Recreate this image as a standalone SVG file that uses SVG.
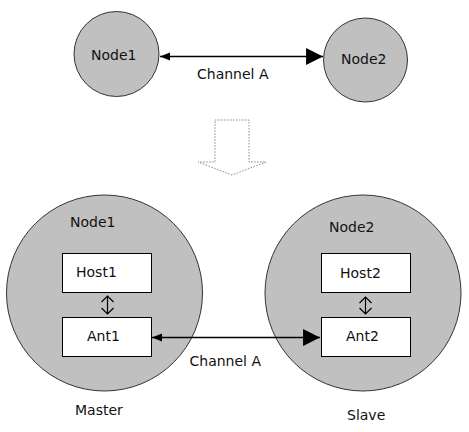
<svg xmlns="http://www.w3.org/2000/svg" width="469" height="432" viewBox="0 0 469 432">
<style>
  .node { fill: #c0c0c0; stroke: #333; stroke-width: 1; }
  .box { fill: #fff; stroke: #000; stroke-width: 1; }
  .lbl { font-family: "DejaVu Sans", Verdana, sans-serif; font-size: 14px; fill: #111; }
  .conn { stroke: #000; stroke-width: 1.3; fill: none; }
  .dbl { stroke: #000; stroke-width: 1.2; fill: none; }
</style>
<defs>
  <marker id="small" markerUnits="userSpaceOnUse" markerWidth="12" markerHeight="10" refX="0" refY="4.5" orient="auto" viewBox="0 0 12 9">
    <path d="M0,4.5 L10,0.5 L10,8.5 Z" fill="#000"/>
  </marker>
  <marker id="big" markerUnits="userSpaceOnUse" markerWidth="18" markerHeight="18" refX="16" refY="8.5" orient="auto" viewBox="0 0 17 17">
    <path d="M0,0.5 L16,8.5 L0,16.5 Z" fill="#000"/>
  </marker>
</defs>
<rect width="469" height="432" fill="#fff"/>

<g id="top-node1">
  <circle class="node" cx="116.5" cy="54" r="42.5"/>
  <text class="lbl" x="91" y="60">Node1</text>
</g>
<g id="top-node2">
  <circle class="node" cx="365.5" cy="60" r="42"/>
  <text class="lbl" x="341" y="64">Node2</text>
</g>

<g id="transition-arrow">
  <polygon points="215,120 249,120 249,162 266,162 232,175 198,162 215,162" fill="none" stroke="#888" stroke-width="1" stroke-dasharray="1.5,1.5"/>
</g>

<g id="node1">
  <circle class="node" cx="104.5" cy="293" r="98"/>
  <text class="lbl" x="70" y="227">Node1</text>
  <text class="lbl" x="75" y="415">Master</text>
</g>
<g id="host1">
  <rect class="box" x="62.5" y="253.5" width="89" height="39"/>
  <text class="lbl" x="76" y="277">Host1</text>
</g>
<g id="ant1">
  <rect class="box" x="62.5" y="317.5" width="89" height="39"/>
  <text class="lbl" x="87" y="341">Ant1</text>
</g>

<g id="node2">
  <circle class="node" cx="363" cy="293" r="98"/>
  <text class="lbl" x="329" y="232">Node2</text>
  <text class="lbl" x="347" y="420">Slave</text>
</g>
<g id="host2">
  <rect class="box" x="321.5" y="253.5" width="89" height="39"/>
  <text class="lbl" x="340" y="278">Host2</text>
</g>
<g id="ant2">
  <rect class="box" x="321.5" y="317.5" width="89" height="39"/>
  <text class="lbl" x="346" y="341">Ant2</text>
</g>

<g id="connectors">
  <line class="conn" x1="160" y1="56.5" x2="323" y2="56.5" marker-start="url(#small)" marker-end="url(#big)"/>
  <text class="lbl" x="197" y="79">Channel A</text>
  <line class="conn" x1="152" y1="337.5" x2="320" y2="337.5" marker-start="url(#small)" marker-end="url(#big)"/>
  <text class="lbl" x="189.5" y="366">Channel A</text>
  <path class="dbl" d="M107.5,296 V314 M101.5,302 L107.5,296 L113.5,302 M101.5,308 L107.5,314 L113.5,308"/>
  <path class="dbl" d="M365.5,297 V314 M359.5,303 L365.5,297 L371.5,303 M359.5,308 L365.5,314 L371.5,308"/>
</g>
</svg>
